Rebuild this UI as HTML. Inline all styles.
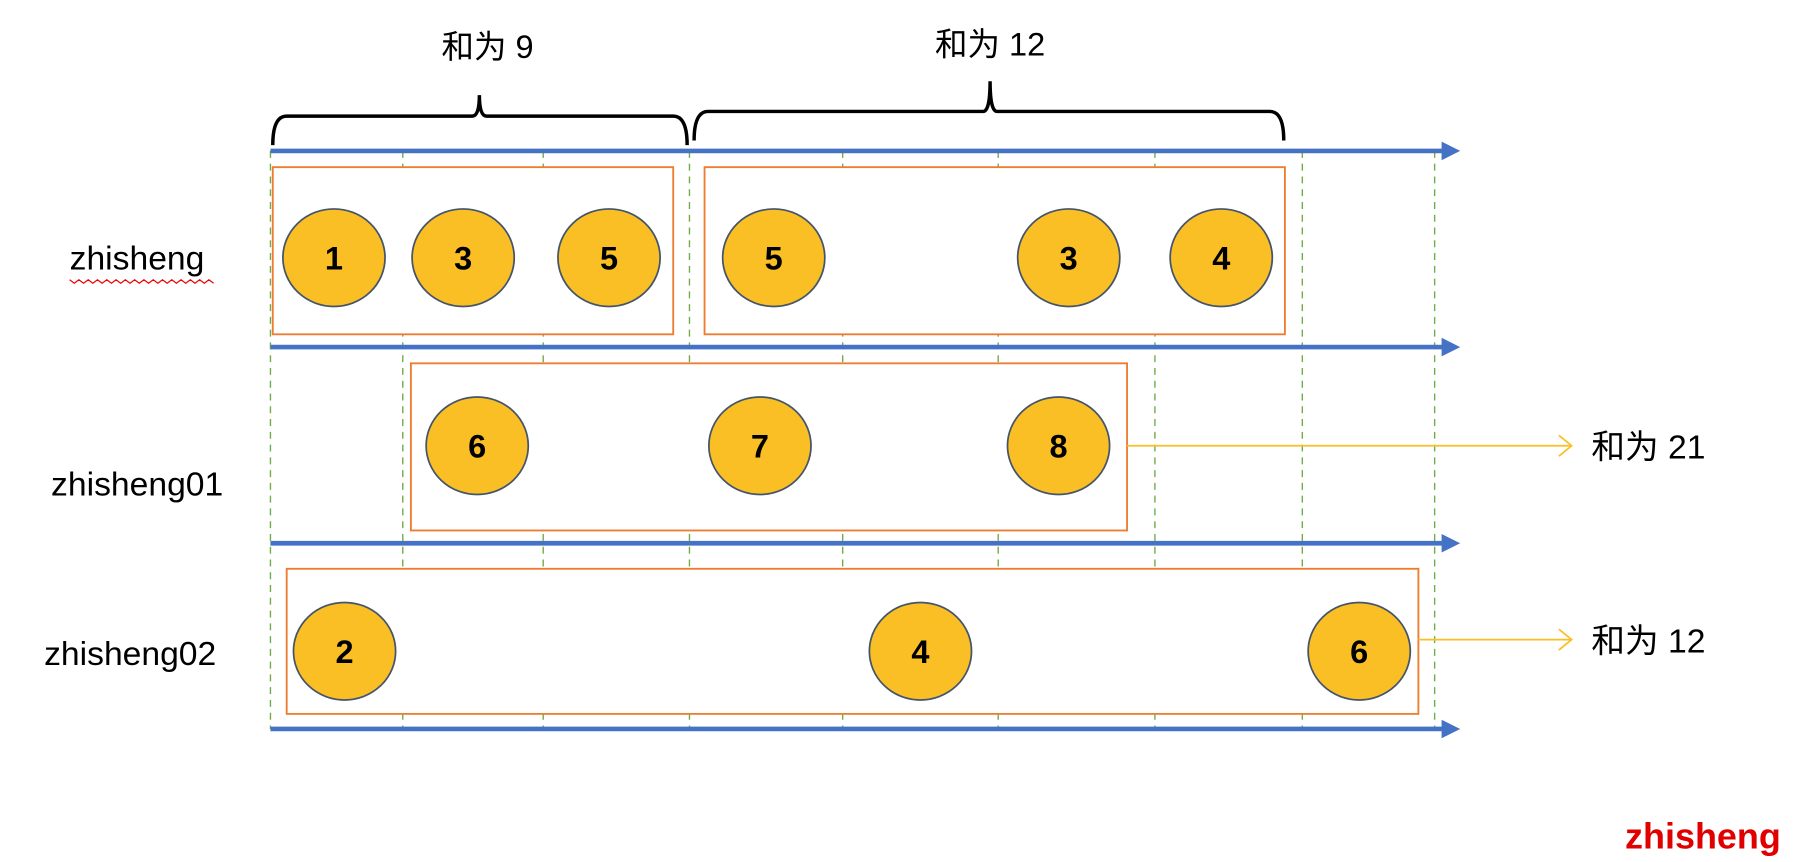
<!DOCTYPE html>
<html><head><meta charset="utf-8"><style>
html,body{margin:0;padding:0;background:#fff;}
svg{display:block;}
text{font-family:"Liberation Sans","Noto Sans CJK SC",sans-serif;}
</style></head><body>
<svg id="chart" width="1820" height="862" viewBox="0 0 1568 742.6" preserveAspectRatio="none" xmlns="http://www.w3.org/2000/svg"></svg>
<script>
// Data arrays
const rowNames = ["zhisheng", "zhisheng01", "zhisheng02"];
const row1Values = [1, 3, 5, 5, 3, 4];
const row2Values = [6, 7, 8];
const row3Values = [2, 4, 6];
const windowSums = ["和为 9", "和为 12"];
const rowSums = ["和为 21", "和为 12"];
const tickTimes = [0, 1, 2, 3, 4, 5, 6, 7, 8];
// positions on the time axis (in time units) for each circle
const row1Times = [0.48, 1.43, 2.45, 3.55, 5.45, 6.45];
const row2Times = [1.53, 3.46, 5.385];
const row3Times = [0.56, 4.5, 7.43];

const NS = "http://www.w3.org/2000/svg";
const svg = document.getElementById("chart");
const tickX = [233, 347, 468, 594, 726, 860, 995, 1122, 1236];
function xScale(t){ const i=Math.floor(t); const f=t-i; if(i>=tickX.length-1) return tickX[tickX.length-1]; return tickX[i]+(tickX[i+1]-tickX[i])*f; }
function el(tag, attrs, parent){ const e=document.createElementNS(NS,tag); for(const k in attrs) e.setAttribute(k,attrs[k]); (parent||svg).appendChild(e); return e; }

const axisY = [130, 299, 468, 628];
tickTimes.forEach((t,i)=>{
  const l = el("line",{x1:xScale(t),x2:xScale(t),y1:130,y2:628,stroke:"#70ad47","stroke-width":1.2,"stroke-dasharray":"6,5"});
  
  
});
axisY.forEach((y,i)=>{
  const g=el("g",{});
  
  
  el("line",{x1:233,x2:1244,y1:y,y2:y,stroke:"#4472c4","stroke-width":4},g);
  el("polygon",{points:`1242,${y-8} 1258,${y} 1242,${y+8}`,fill:"#4472c4"},g);
});
const boxes = [[235,144,580,288],[607,144,1107,288],[354,313,971,457],[247,490,1222,615]];
boxes.forEach(b=>{
  const r=el("rect",{x:b[0],y:b[1],width:b[2]-b[0],height:b[3]-b[1],fill:"#fff",stroke:"#ed7d31","stroke-width":1.6});
  
  
});
function drawRow(vals, times, cy){
  vals.forEach((v,i)=>{
    const g=el("g",{});
    
    
    const cx=xScale(times[i]);
    el("ellipse",{cx:cx,cy:cy,rx:44,ry:42,fill:"#fbbf26",stroke:"#44546a","stroke-width":1.5},g);
    const t=el("text",{x:cx,y:cy+10,"text-anchor":"middle","font-size":28,"font-weight":"bold",fill:"#000"},g);
    t.textContent=v;
  });
}
drawRow(row1Values,row1Times,222);
drawRow(row2Values,row2Times,384);
drawRow(row3Values,row3Times,561);
const rowLabelPos=[[60,232],[44,427],[38,573]];
rowNames.forEach((n,i)=>{
  const t=el("text",{x:rowLabelPos[i][0],y:rowLabelPos[i][1],"font-size":29,fill:"#000"});
  t.textContent=n;
  
  
});
el("path",{d:"M60,241 "+Array.from({length:32},(_,k)=>`L${60+k*4},${241+(k%2?3:0)}`).join(" "),fill:"none",stroke:"#e00","stroke-width":1});
const braces=[[235,592,100,413,82,420,50],[598,1106,96,853,70,853,48]];
braces.forEach((b,i)=>{
  const [x1,x2,y,tx,ty,lx,ly]=b;
  const p=el("path",{d:`M${x1},${y+25} Q${x1},${y} ${x1+12},${y} L${tx-6},${y} Q${tx},${y} ${tx},${ty} Q${tx},${y} ${tx+6},${y} L${x2-12},${y} Q${x2},${y} ${x2},${y+25}`,fill:"none",stroke:"#000","stroke-width":3});
  
  
  const t=el("text",{x:lx,y:ly,"text-anchor":"middle","font-size":28,fill:"#000"});
  t.textContent=windowSums[i];
  
  
});
const sumArrows=[[971,384],[1222,551]];
sumArrows.forEach((a,i)=>{
  const g=el("g",{});
  
  
  el("line",{x1:a[0],x2:1354,y1:a[1],y2:a[1],stroke:"#fbbf26","stroke-width":1.5},g);
  el("polyline",{points:`1343,${a[1]-9} 1354,${a[1]} 1343,${a[1]+9}`,fill:"none",stroke:"#fbbf26","stroke-width":1.5},g);
  const t=el("text",{x:1371,y:a[1]+11,"font-size":29,fill:"#000"});
  t.textContent=rowSums[i];
  
  
});
const w=el("text",{x:1400,y:731,"font-size":31,"font-weight":"bold",fill:"#e00000"});
w.textContent="zhisheng";


</script>
</body></html>
